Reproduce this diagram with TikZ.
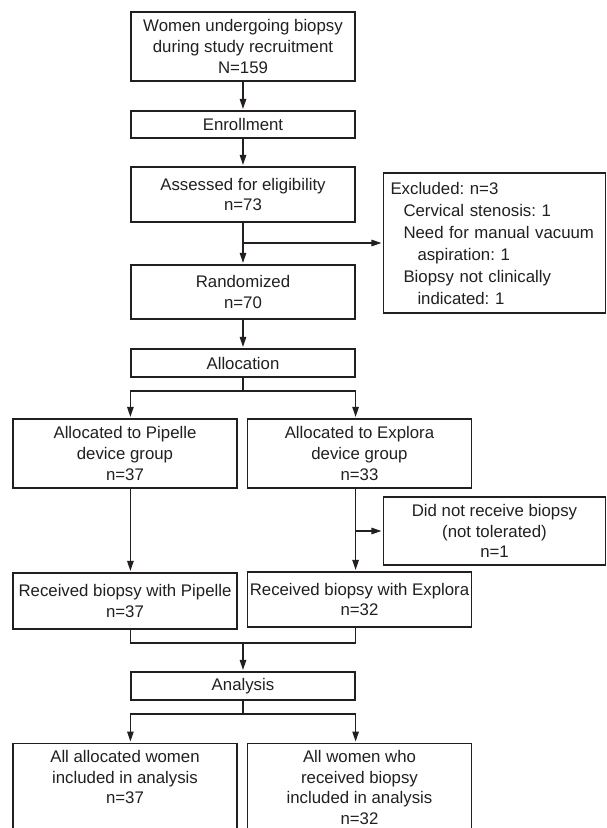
\documentclass[tikz,border=0pt]{standalone}
\usepackage{fontspec}
\setmainfont{Liberation Sans}
\usetikzlibrary{arrows.meta}
\definecolor{ink}{HTML}{231F20}
\frenchspacing
\begin{document}
\begin{tikzpicture}[x=1pt,y=-1pt,
  box/.style={draw=ink, line width=1.2pt, text=ink, align=center, inner sep=0pt,
    minimum width=224pt, font=\fontsize{16.8}{20.8}\selectfont},
  arr/.style={draw=ink, line width=1.2pt, shorten >=1.5pt, -{Triangle[length=10pt,width=6.5pt]}},
  ln/.style={draw=ink, line width=1.2pt}]
\useasboundingbox (0,0) rectangle (606,828);
\clip (0,0) rectangle (606,828);
\fill[white] (0,0) rectangle (606,828);

\node[box, minimum height=69pt] (top) at (243,46.5) {Women undergoing biopsy\\during study recruitment\\N=159};
\node[box, minimum height=27pt] (enr) at (243,124.5) {Enrollment};
\node[box, minimum height=55pt] (ass) at (243,194.5) {Assessed for eligibility\\n=73};
\node[box, align=left, text width=208pt, minimum width=222pt, inner xsep=7pt, minimum height=140pt,
  font=\fontsize{16.8}{22}\selectfont] (exc) at (494.5,243)
  {Excluded: n=3\\
   \hspace*{13pt}Cervical stenosis: 1\\
   \hspace*{13pt}Need for manual vacuum\\
   \hspace*{27pt}aspiration: 1\\
   \hspace*{13pt}Biopsy not clinically\\
   \hspace*{27pt}indicated: 1};
\node[box, minimum height=54pt] (ran) at (243,292) {Randomized\\n=70};
\node[box, minimum height=28pt] (alc) at (243,363) {Allocation};
\node[box, minimum height=69pt] (pip) at (125,453.5) {Allocated to Pipelle\\device group\\n=37};
\node[box, minimum height=69pt] (exp) at (359.5,453.5) {Allocated to Explora\\device group\\n=33};
\node[box, minimum width=222pt, minimum height=68pt] (dnr) at (494.5,531) {Did not receive biopsy\\(not tolerated)\\n=1};
\node[box, minimum height=56pt] (rpip) at (125,601) {Received biopsy with Pipelle\\n=37};
\node[box, minimum height=55pt] (rexp) at (359.5,599.5) {Received biopsy with Explora\\n=32};
\node[box, minimum height=28pt] (ana) at (243,686) {Analysis};
\node[box, anchor=north, inner ysep=6.5pt, text depth=70pt] (all1) at (125,743)
  {All allocated women\\included in analysis\\n=37};
\node[box, anchor=north, inner ysep=6.5pt, text depth=70pt] (all2) at (359.5,743)
  {All women who\\received biopsy\\included in analysis\\n=32};

\draw[arr] (top) -- (enr);
\draw[arr] (enr) -- (ass);
\draw[arr] (ass) -- (ran);
\draw[arr] (ass.south |- exc.west) -- (exc.west);
\draw[arr] (ran) -- (alc);
\coordinate (b1) at (243,391);
\draw[ln] (alc) -- (b1);
\draw[arr] (b1) -| (alc.west |- pip.north);
\draw[arr] (b1) -| (alc.east |- exp.north);
\draw[arr] (alc.west |- pip.south) -- (alc.west |- rpip.north);
\draw[arr] (alc.east |- exp.south) -- (alc.east |- rexp.north);
\draw[arr] (alc.east |- dnr.west) -- (dnr.west);
\coordinate (b2) at (243,643);
\draw[ln] (alc.west |- rpip.south) |- (b2) -| (alc.east |- rexp.south);
\draw[arr] (b2) -- (ana);
\coordinate (b3) at (243,714);
\draw[ln] (ana) -- (b3);
\draw[arr] (b3) -| (alc.west |- all1.north);
\draw[arr] (b3) -| (alc.east |- all2.north);
\end{tikzpicture}
\end{document}
